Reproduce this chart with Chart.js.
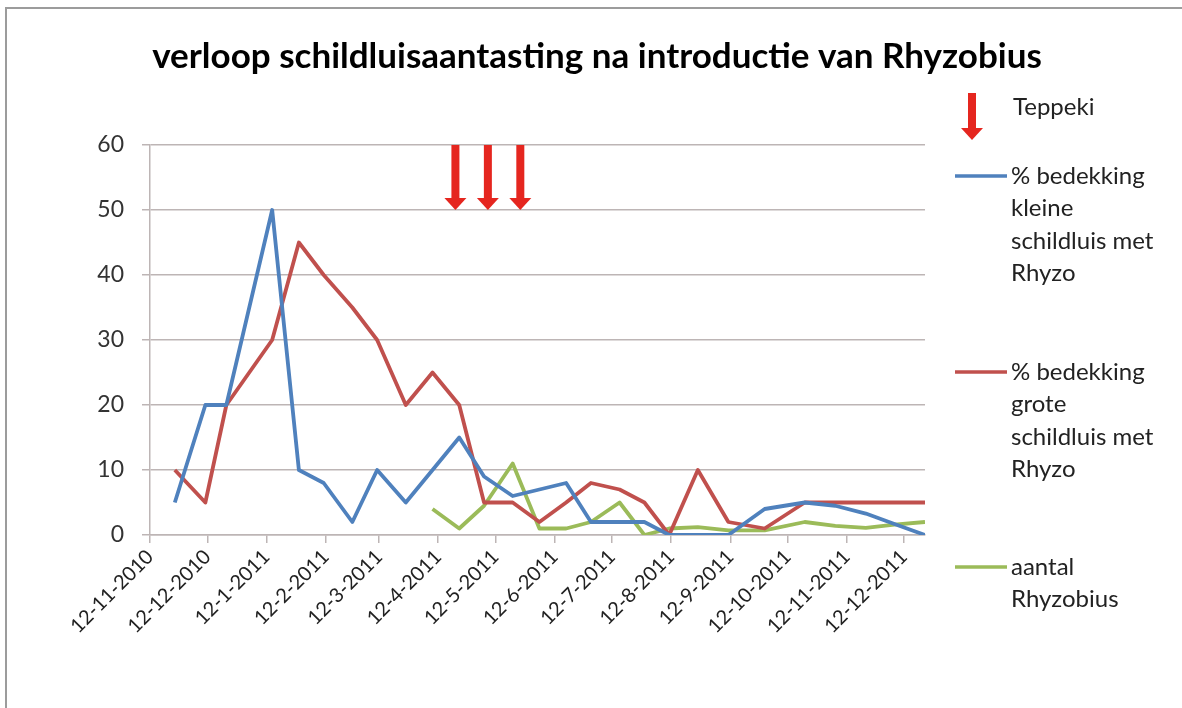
<!DOCTYPE html>
<html><head><meta charset="utf-8">
<script src="https://cdn.jsdelivr.net/npm/chart.js@4/dist/chart.umd.min.js"></script>
<style>html,body{margin:0;padding:0;background:#fff}#wrap{width:1182px;height:708px;position:relative}</style>
</head><body><div id="wrap"><canvas id="c" width="1182" height="708"></canvas></div>
<script>
const titleText = 'verloop schildluisaantasting na introductie van Rhyzobius';
const dates = ['25-11-2010','11-12-2010','22-12-2010','15-1-2011','29-1-2011','11-2-2011','26-2-2011','11-3-2011','26-3-2011','9-4-2011','23-4-2011','6-5-2011','21-5-2011','4-6-2011','18-6-2011','1-7-2011','16-7-2011','29-7-2011','11-8-2011','26-8-2011','11-9-2011','30-9-2011','21-10-2011','6-11-2011','22-11-2011','7-12-2011','23-12-2011'];
const kleine = [5,20,20,50,10,8,2,10,5,10,15,9,6,7,8,2,2,2,0,0,0,4,5,4.5,3.3,1.7,0];
const grote = [10,5,20,30,45,40,35,30,20,25,20,5,5,2,5,8,7,5,0,10,2,1,5,5,5,5,5];
const rhyzobius = [null,null,null,null,null,null,null,null,null,4,1,4.5,11,1,1,2,5,0,1,1.2,0.7,0.7,2,1.4,1.1,1.6,2];
const seriesNames = ['% bedekking kleine schildluis met Rhyzo','% bedekking grote schildluis met Rhyzo','aantal Rhyzobius'];
const seriesColors = ['#4F81BD','#C0504D','#9BBB59'];
const xTickLabels = ['12-11-2010','12-12-2010','12-1-2011','12-2-2011','12-3-2011','12-4-2011','12-5-2011','12-6-2011','12-7-2011','12-8-2011','12-9-2011','12-10-2011','12-11-2011','12-12-2011'];
const yTicks = [0,10,20,30,40,50,60];
const teppekiLabel = 'Teppeki';
const teppekiDates = ['21-4-2011','8-5-2011','25-5-2011'];

function dayNum(s){const p=s.split('-').map(Number);return Date.UTC(p[2],p[1]-1,p[0])/86400000;}
const labelMap = {};
xTickLabels.forEach(l=>{labelMap[dayNum(l)]=l;});
function pts(vals){return dates.map((d,i)=>({x:dayNum(d),y:vals[i]}));}

const FONT='Lato';
const ARROW='#E5261F';
const GRID='#BDB5B5';

function drawArrow(ctx,x,y0,y1){
  const shaft=8, head=22, hh=12;
  ctx.save();
  ctx.fillStyle=ARROW;
  ctx.fillRect(x-shaft/2,y0,shaft,(y1-hh)-y0);
  ctx.beginPath();
  ctx.moveTo(x-head/2,y1-hh);ctx.lineTo(x+head/2,y1-hh);ctx.lineTo(x,y1);ctx.closePath();ctx.fill();
  ctx.restore();
}
function wrap(ctx,text,maxW){
  const words=text.split(' ');const lines=[];let cur='';
  words.forEach(w=>{const t=cur?cur+' '+w:w; if(cur && ctx.measureText(t).width>maxW){lines.push(cur);cur=w;} else cur=t;});
  if(cur)lines.push(cur);return lines;
}

const decor={
  id:'decor',
  beforeDraw(chart){
    const ctx=chart.ctx;ctx.save();
    ctx.fillStyle='#fff';ctx.fillRect(0,0,chart.width,chart.height);
    ctx.strokeStyle='#9c9c9c';ctx.lineWidth=2;
    ctx.beginPath();ctx.moveTo(6,chart.height);ctx.lineTo(6,8);ctx.lineTo(chart.width,8);ctx.stroke();
    ctx.restore();
  },
  afterDraw(chart){
    const ctx=chart.ctx;const xs=chart.scales.x, ys=chart.scales.y;
    // title
    ctx.save();
    ctx.font='bold 35px '+FONT;ctx.fillStyle='#000';ctx.textAlign='center';ctx.textBaseline='middle';
    ctx.fillText(titleText,597,57);
    ctx.restore();
    teppekiDates.forEach(d=>drawArrow(ctx,xs.getPixelForValue(dayNum(d)),ys.getPixelForValue(60),ys.getPixelForValue(50)));
    // legend
    ctx.save();
    ctx.font='24px '+FONT;ctx.fillStyle='#222';ctx.textBaseline='middle';ctx.textAlign='left';
    drawArrow(ctx,972,93,140);
    ctx.fillText(teppekiLabel,1013,107);
    const entryY=[176,372,567];
    chart.data.datasets.forEach((ds,i)=>{
      const y0=entryY[i];
      ctx.strokeStyle=ds.borderColor;ctx.lineWidth=3.5;
      ctx.beginPath();ctx.moveTo(955,y0);ctx.lineTo(1007,y0);ctx.stroke();
      const lines=wrap(ctx,ds.label,152);
      lines.forEach((l,k)=>ctx.fillText(l,1011,y0+k*32.5));
    });
    ctx.restore();
  }
};

new Chart(document.getElementById('c'),{
  type:'line',
  data:{datasets:[
    {label:seriesNames[0],data:pts(kleine),borderColor:seriesColors[0],backgroundColor:seriesColors[0]},
    {label:seriesNames[1],data:pts(grote),borderColor:seriesColors[1],backgroundColor:seriesColors[1]},
    {label:seriesNames[2],data:pts(rhyzobius),borderColor:seriesColors[2],backgroundColor:seriesColors[2]}
  ]},
  options:{
    responsive:false,animation:false,
    layout:{padding:{left:20,right:257,top:145,bottom:10}},
    elements:{point:{radius:0},line:{tension:0,borderWidth:3.8,borderJoinStyle:'round'}},
    plugins:{
      legend:{display:false},tooltip:{enabled:false},title:{display:false}
    },
    scales:{
      x:{type:'linear',min:dayNum(xTickLabels[0]),max:dayNum(dates[dates.length-1]),
        afterBuildTicks:s=>{s.ticks=xTickLabels.map(l=>({value:dayNum(l)}));},
        ticks:{autoSkip:false,minRotation:45,maxRotation:45,color:'#222',font:{family:FONT,size:20},padding:2,callback:v=>labelMap[v]},
        grid:{drawOnChartArea:false,drawTicks:true,tickLength:8,color:GRID,lineWidth:1.5},
        border:{color:GRID,width:1.5},
        afterFit:s=>{s.height=708-10-535;}
      },
      y:{min:0,max:60,
        afterBuildTicks:s=>{s.ticks=yTicks.map(v=>({value:v}));},
        ticks:{color:'#333',font:{family:FONT,size:23},padding:18},
        grid:{color:GRID,lineWidth:1.5,tickLength:8},
        border:{color:GRID,width:1.5},
        afterFit:s=>{s.width=130;}
      }
    }
  },
  plugins:[decor]
});
</script></body></html>
